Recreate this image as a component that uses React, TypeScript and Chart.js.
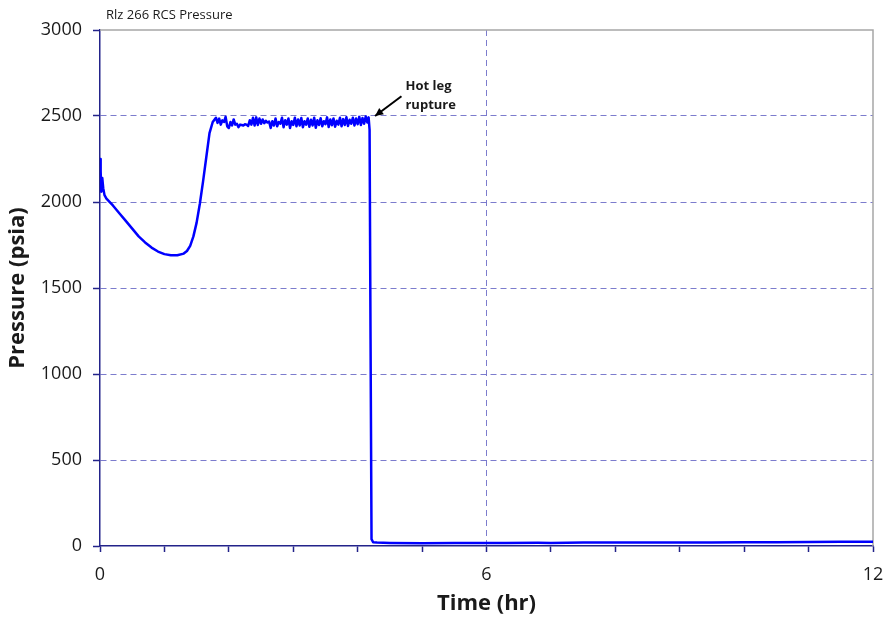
import React, { useEffect, useRef } from "react";
import { Chart, registerables } from "chart.js";

Chart.register(...registerables);

const chartTitle = "Rlz 266 RCS Pressure";
const xAxisTitle = "Time (hr)";
const yAxisTitle = "Pressure (psia)";
const annotationLines = ["Hot leg", "rupture"];
const xLabelValues = [0, 6, 12];

const timeHr = [
  0, 0.01, 0.02, 0.035, 0.05, 0.07, 0.1, 0.2, 0.3, 0.4, 0.5, 0.6, 0.7, 0.8, 0.9, 1.0, 1.1, 1.2, 1.3, 1.35,
  1.4, 1.45, 1.5, 1.55, 1.6, 1.65, 1.7, 1.75,
  1.8, 1.825, 1.85, 1.875, 1.9, 1.925, 1.95, 1.975, 2.0, 2.025, 2.05, 2.075, 2.1, 2.125, 2.15, 2.175,
  2.2, 2.225, 2.25, 2.275, 2.3, 2.325, 2.35, 2.375, 2.4, 2.425, 2.45, 2.475, 2.5, 2.525, 2.55, 2.575,
  2.6, 2.625, 2.65, 2.675, 2.7, 2.725, 2.75, 2.775, 2.8, 2.825, 2.85, 2.875, 2.9, 2.925, 2.95, 2.975,
  3.0, 3.025, 3.05, 3.075, 3.1, 3.125, 3.15, 3.175, 3.2, 3.225, 3.25, 3.275, 3.3, 3.325, 3.35, 3.375,
  3.4, 3.425, 3.45, 3.475, 3.5, 3.525, 3.55, 3.575, 3.6, 3.625, 3.65, 3.675, 3.7, 3.725, 3.75, 3.775,
  3.8, 3.825, 3.85, 3.875, 3.9, 3.925, 3.95, 3.975, 4.0, 4.025, 4.05, 4.075, 4.1, 4.125, 4.15, 4.17,
  4.185, 4.2, 4.215, 4.24, 4.3, 4.5, 5.0, 5.5, 6.0, 6.3, 6.8, 7.0, 7.5, 8.0, 8.5, 9.0, 9.5,
  10.0, 10.5, 11.0, 11.5, 12.0,
];

const pressurePsia = [
  2250, 2180, 2060, 2140, 2080, 2040, 2020, 1980, 1935, 1890, 1845, 1800, 1765, 1735, 1712, 1697, 1690, 1690, 1700, 1715,
  1745, 1800, 1880, 1990, 2120, 2260, 2400, 2465,
  2490, 2460, 2485, 2450, 2475, 2465, 2495, 2440, 2430, 2465, 2445, 2480, 2450, 2455, 2435, 2450,
  2448, 2445, 2452, 2450, 2442, 2475, 2450, 2490, 2445, 2492, 2448, 2485, 2455, 2480, 2458, 2472,
  2462, 2468, 2430, 2470, 2445, 2485, 2440, 2465, 2455, 2490, 2435, 2475, 2450, 2485, 2430, 2470,
  2448, 2490, 2440, 2480, 2445, 2488, 2435, 2470, 2450, 2485, 2438, 2478, 2445, 2490, 2432, 2475,
  2448, 2487, 2440, 2470, 2452, 2492, 2436, 2480, 2446, 2486, 2438, 2472, 2450, 2490, 2440, 2482,
  2448, 2493, 2442, 2478, 2455, 2490, 2445, 2485, 2452, 2495, 2448, 2488, 2455, 2497, 2462, 2492,
  2420, 1200, 40, 22, 20, 18, 16, 17, 17, 18, 19, 18, 20, 20, 20, 21, 21,
  22, 22, 23, 24, 25,
];

const FONT = "'Open Sans', 'Noto Sans', sans-serif";
const NAVY = "#23238a";
const GRID = "rgba(110,110,200,0.9)";
const BORDER_GRAY = "#a6a6a6";

const overlayPlugin = {
  id: "overlay",
  beforeDatasetsDraw(chart: any) {
    const { ctx, chartArea } = chart;
    ctx.save();
    ctx.strokeStyle = BORDER_GRAY;
    ctx.lineWidth = 1.5;
    ctx.beginPath();
    ctx.moveTo(chartArea.left, chartArea.top);
    ctx.lineTo(chartArea.right, chartArea.top);
    ctx.lineTo(chartArea.right, chartArea.bottom);
    ctx.stroke();
    ctx.restore();
  },
  afterDraw(chart: any) {
    const { ctx, chartArea } = chart;
    const xs = chart.scales.x;
    const ys = chart.scales.y;
    ctx.save();
    ctx.fillStyle = "#1a1a1a";
    ctx.font = `13px ${FONT}`;
    ctx.textAlign = "left";
    ctx.textBaseline = "middle";
    ctx.fillText(chartTitle, chartArea.left + 6, 15);
    const tipX = xs.getPixelForValue(4.27);
    const tipY = ys.getPixelForValue(2500);
    const startX = xs.getPixelForValue(4.68);
    const startY = ys.getPixelForValue(2615);
    ctx.strokeStyle = "#000";
    ctx.fillStyle = "#000";
    ctx.lineWidth = 2;
    ctx.beginPath();
    ctx.moveTo(startX, startY);
    ctx.lineTo(tipX, tipY);
    ctx.stroke();
    const ang = Math.atan2(tipY - startY, tipX - startX);
    const len = 9;
    ctx.beginPath();
    ctx.moveTo(tipX, tipY);
    ctx.lineTo(tipX - len * Math.cos(ang - 0.45), tipY - len * Math.sin(ang - 0.45));
    ctx.lineTo(tipX - len * Math.cos(ang + 0.45), tipY - len * Math.sin(ang + 0.45));
    ctx.closePath();
    ctx.fill();
    ctx.font = `bold 13px ${FONT}`;
    ctx.fillStyle = "#1a1a1a";
    ctx.fillText(annotationLines[0], startX + 4, startY - 10);
    ctx.fillText(annotationLines[1], startX + 4, startY + 9);
    ctx.restore();
  },
};

export default function App() {
  const canvasRef = useRef<HTMLCanvasElement>(null);

  useEffect(() => {
    const canvas = canvasRef.current;
    if (!canvas) return;
    const data = timeHr.map((t, i) => ({ x: t, y: pressurePsia[i] }));
    const chart = new Chart(canvas, {
      type: "line",
      data: {
        datasets: [
          {
            label: yAxisTitle,
            data,
            borderColor: "#0000ff",
            borderWidth: 2.5,
            borderJoinStyle: "round",
            borderCapStyle: "round",
            pointRadius: 0,
            tension: 0,
            fill: false,
          },
        ],
      },
      options: {
        responsive: false,
        animation: false,
        devicePixelRatio: 1,
        layout: { padding: { top: 30, right: 0, left: 0, bottom: 0 } },
        plugins: {
          legend: { display: false },
          title: { display: false },
          tooltip: { enabled: false },
        },
        scales: {
          x: {
            type: "linear",
            min: 0,
            max: 12,
            afterFit: (s: any) => {
              s.height = 74;
              s.paddingLeft = 0;
              s.paddingRight = 12;
            },
            ticks: {
              stepSize: 1,
              autoSkip: false,
              maxRotation: 0,
              padding: 12,
              color: "#1a1a1a",
              font: { family: FONT, size: 18 },
              callback: (v: any) => (xLabelValues.includes(Number(v)) ? String(v) : ""),
            },
            grid: {
              color: (c: any) => (c.tick && c.tick.value === 6 ? GRID : "rgba(0,0,0,0)"),
              lineWidth: 1,
              tickLength: 6,
              tickColor: NAVY,
              tickWidth: 1.5,
            },
            border: { display: true, color: NAVY, width: 1.5, dash: [6, 4] },
            title: {
              display: true,
              text: xAxisTitle,
              color: "#1a1a1a",
              font: { family: FONT, size: 22, weight: "bold" },
              padding: { top: 0, bottom: 3 },
            },
          },
          y: {
            type: "linear",
            min: 0,
            max: 3000,
            afterFit: (s: any) => {
              s.width = 100;
            },
            ticks: {
              stepSize: 500,
              padding: 11,
              color: "#1a1a1a",
              font: { family: FONT, size: 18 },
              callback: (v: any) => String(v),
            },
            grid: {
              color: (c: any) =>
                c.tick && c.tick.value > 0 && c.tick.value < 3000 ? GRID : "rgba(0,0,0,0)",
              lineWidth: 1,
              tickLength: 7,
              tickColor: NAVY,
              tickWidth: 1.5,
            },
            border: { display: true, color: NAVY, width: 1.5, dash: [6, 4] },
            title: {
              display: true,
              text: yAxisTitle,
              color: "#1a1a1a",
              font: { family: FONT, size: 22, weight: "bold" },
              padding: { top: 5, bottom: 0 },
            },
          },
        },
      },
      plugins: [overlayPlugin],
    });
    return () => chart.destroy();
  }, []);

  return (
    <div style={{ position: "fixed", left: 0, top: 0, width: 885, height: 620, background: "#fff" }}>
      <canvas ref={canvasRef} width={885} height={620} style={{ width: 885, height: 620 }} />
    </div>
  );
}
